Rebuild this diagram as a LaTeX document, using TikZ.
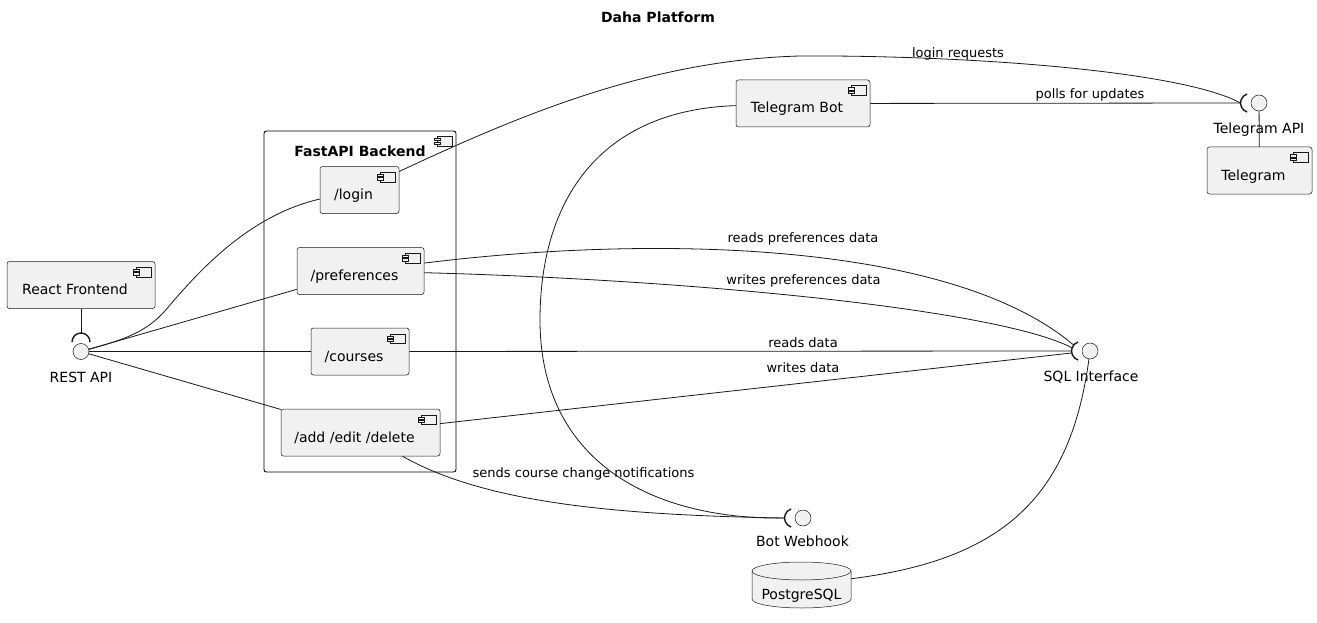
\documentclass[tikz,border=0pt]{standalone}
\usepackage{fontspec}
\setmainfont{DejaVu Sans}
\definecolor{umlfill}{HTML}{F1F1F1}
\definecolor{umlline}{HTML}{181818}

\begin{document}
\begin{tikzpicture}[x=1pt,y=-1pt,
    compicon/.pic={
      \draw[umlline,line width=0.5pt,fill=umlfill] (-19,6) rectangle (-4,15.5);
      \draw[umlline,line width=0.5pt,fill=umlfill] (-22,8) rectangle (-16,10.2);
      \draw[umlline,line width=0.5pt,fill=umlfill] (-22,11.3) rectangle (-16,13.5);
    }]
    \tikzstyle{comp}=[draw=umlline,fill=umlfill,line width=0.5pt,rounded corners=2.5pt,
      inner sep=0pt,minimum height=47pt,text height=21pt,text depth=2pt,
      font=\fontsize{14}{16}\selectfont,execute at end node={\hspace*{12pt}}]
    \tikzstyle{iface}=[circle,draw=umlline,fill=umlfill,line width=0.5pt,minimum size=16pt,inner sep=0pt]
    \tikzstyle{ifacelabel}=[font=\fontsize{14}{16}\selectfont,anchor=base,inner sep=0pt]
    \tikzstyle{socket}=[draw=umlline,line width=1.4pt]
    \tikzstyle{wire}=[draw=umlline,line width=0.8pt]
    \tikzstyle{wirelabel}=[font=\fontsize{13}{15}\selectfont,anchor=base,inner sep=0pt]

    \useasboundingbox (0,0) rectangle (1317,623);
    \node[font=\bfseries\fontsize{14}{16}\selectfont,anchor=base] (title) at (658,23) {Daha Platform};

    % backend frame
    \node[draw=black,fill=white,line width=0.9pt,rounded corners=2.5pt,minimum width=192pt,
      minimum height=341pt,inner sep=0pt] (backend) at (360,301.5) {};
    \pic at (backend.north east) {compicon};
    \node[font=\bfseries\fontsize{14}{16}\selectfont,anchor=base] (backendtitle) at (360,156.7) {FastAPI Backend};

    % components
    \node[comp,minimum width=148pt] (react) at (81,285) {React Frontend};
    \node[comp,minimum width=79pt] (login) at (359.5,190) {/login};
    \node[comp,minimum width=127pt] (prefs) at (360.5,271) {/preferences};
    \node[comp,minimum width=98pt] (courses) at (360,351.5) {/courses};
    \node[comp,minimum width=159pt] (crud) at (360.5,432.5) {/add /edit /delete};
    \node[comp,minimum width=134pt] (tgbot) at (803,103.5) {Telegram Bot};
    \node[comp,minimum width=105pt] (telegram) at (1259.5,170.5) {Telegram};
    \foreach \cname in {react,login,prefs,courses,crud,tgbot,telegram}
      \pic at (\cname.north east) {compicon};

    % database
    \draw[draw=umlline,fill=umlfill,line width=0.5pt] (752,571) -- (752,599)
      arc[start angle=180,end angle=0,x radius=49.5,y radius=9] -- (851,571)
      arc[start angle=0,end angle=-180,x radius=49.5,y radius=9] -- cycle;
    \draw[draw=umlline,line width=0.5pt] (752,571) arc[start angle=180,end angle=0,x radius=49.5,y radius=9];
    \node[inner sep=0pt,minimum width=99pt,minimum height=46pt,text height=31pt,text depth=2pt,
      font=\fontsize{14}{16}\selectfont] (pg) at (801.5,585) {PostgreSQL};

    % interfaces
    \node[iface] (rest) at (81,351.5) {};
    \node[iface] (tgapi) at (1259,103) {};
    \node[iface] (sql) at (1090,351) {};
    \node[iface] (hook) at (803,518) {};
    \node[ifacelabel] (restlabel) at (81,382.5) {REST API};
    \node[ifacelabel] (tgapilabel) at (1259,133.3) {Telegram API};
    \node[ifacelabel] (sqllabel) at (1091,381.7) {SQL Interface};
    \node[ifacelabel] (hooklabel) at (802.5,546.7) {Bot Webhook};

    % sockets
    \coordinate (restsock) at (81,333);
    \coordinate (tgsock) at (1240.5,103);
    \coordinate (sqlsock) at (1071.5,351);
    \coordinate (hooksock) at (784.5,518);
    \draw[socket] (72,342) arc[start angle=180,end angle=360,radius=9];
    \draw[socket] (1247.1,112) arc[start angle=108,end angle=252,radius=9.5];
    \draw[socket] (1078.1,360) arc[start angle=108,end angle=252,radius=9.5];
    \draw[socket] (791.1,527) arc[start angle=108,end angle=252,radius=9.5];

    % connectors
    \draw[wire] (react) -- (restsock);
    \draw[wire] (tgapi) -- (telegram);
    \draw[wire] (rest) .. controls (130,338) and (150,330) .. (170,305)
      .. controls (200,270) and (250,215) .. (login);
    \draw[wire] (rest) -- (prefs);
    \draw[wire] (rest) -- (courses);
    \draw[wire] (rest) -- (crud);
    \draw[wire] (login) .. controls (520,115) and (650,60) .. (800,56)
      .. controls (960,55) and (1180,70) .. (tgsock)
      node[wirelabel] at (958,57.3) {login requests};
    \draw[wire] (tgbot) -- (tgsock)
      node[wirelabel] at (1090,98.3) {polls for updates};
    \draw[wire] (tgbot) .. controls (600,110) and (540,200) .. (540,320)
      .. controls (540,460) and (650,520) .. (hooksock);
    \draw[wire] (crud) .. controls (480,500) and (600,515) .. (hooksock)
      node[wirelabel] at (583.5,477.3) {sends course change notifications};
    \draw[wire] (prefs) .. controls (650,235) and (950,240) .. ([shift={(2,-6)}]sqlsock)
      node[wirelabel] at (803,242.3) {reads preferences data};
    \draw[wire] (prefs) .. controls (700,280) and (1000,310) .. ([shift={(1,-3)}]sqlsock)
      node[wirelabel] at (803.5,284.3) {writes preferences data};
    \draw[wire] (courses) -- (sqlsock)
      node[wirelabel] at (803,347.3) {reads data};
    \draw[wire] (crud) -- ([shift={(0,2)}]sqlsock)
      node[wirelabel] at (803,372.3) {writes data};
    \draw[wire] (pg) .. controls (1000,560) and (1070,500) .. (sql);
\end{tikzpicture}
\end{document}
